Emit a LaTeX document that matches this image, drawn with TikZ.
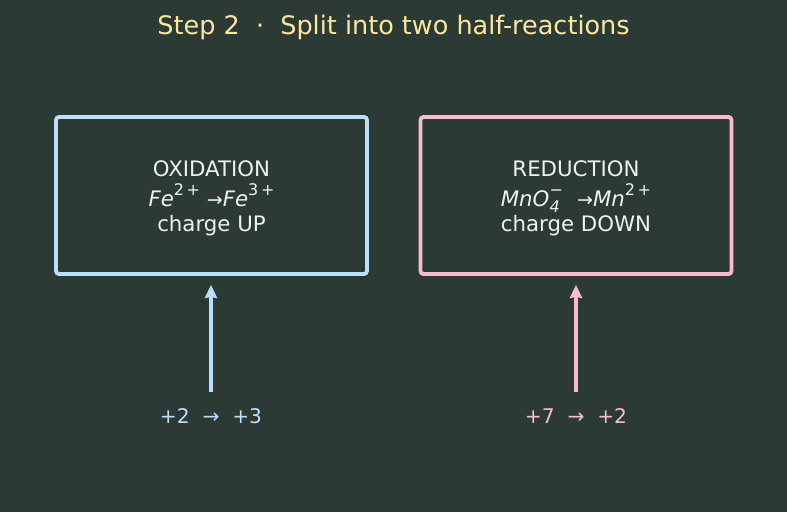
\documentclass[tikz,border=0pt]{standalone}
\usepackage{fontspec}
\setmainfont{DejaVu Sans}
\usetikzlibrary{arrows.meta}
\definecolor{bg}{HTML}{2B3A34}
\definecolor{oxc}{HTML}{BBDEFB}
\definecolor{redc}{HTML}{F8BBD0}
\definecolor{titlec}{HTML}{FBE7A1}
\definecolor{txt}{HTML}{EEF2EE}
\newcommand{\chsup}[1]{\raisebox{0.5em}{\fontsize{16}{16}\selectfont #1}}
\newcommand{\chmn}{\makebox[0pt][l]{\raisebox{0.5em}{\fontsize{16}{16}\selectfont −}}\raisebox{-0.3em}{\fontsize{16}{16}\selectfont\itshape 4}}
\newcommand{\charr}{{\fontsize{19}{19}\selectfont →}}
\begin{document}
\begin{tikzpicture}[x=1pt,y=-1pt,
  box/.style={draw, line width=3.8pt, rounded corners=3pt, minimum width=311pt, minimum height=157pt, inner sep=0pt},
  boxtext/.style={text=txt, font=\fontsize{21.3}{27}\selectfont, align=center},
  lab/.style={font=\fontsize{20.2}{24}\selectfont},
  up/.style={line width=3.6pt, -{Stealth[length=13pt,width=12pt,inset=1pt]}}
]
\fill[bg] (0,0) rectangle (787,512);
\useasboundingbox (0,0) rectangle (787,512);
\node[text=titlec, font=\fontsize{25.5}{30}\selectfont] (title) at (393.5,27) {Step 2\ \ ·\ \ Split into two half-reactions};
\node[box, draw=oxc] (ox) at (211.5,195.5) {};
\node[box, draw=redc] (red) at (576,195.5) {};
\node[boxtext] (oxt) at (211.5,198) {OXIDATION\\[3pt]{\itshape Fe}\chsup{2\,+} \charr{\itshape Fe}\chsup{3\,+}\\[-2pt]charge UP};
\node[boxtext] (redt) at (576,198) {REDUCTION\\[3pt]{\itshape MnO}\chmn\hspace{0.5em} \charr{\itshape Mn}\chsup{2\,+}\\[-2pt]charge DOWN};
\node[lab, text=oxc] (oxl) at (211,416) {+2\ \ →\ \ +3};
\node[lab, text=redc] (redl) at (576,416) {+7\ \ →\ \ +2};
\draw[up, oxc, shorten <=13pt, shorten >=9pt] (oxl.north) -- (oxl.north |- ox.south);
\draw[up, redc, shorten <=13pt, shorten >=9pt] (redl.north) -- (redl.north |- red.south);
\end{tikzpicture}
\end{document}
